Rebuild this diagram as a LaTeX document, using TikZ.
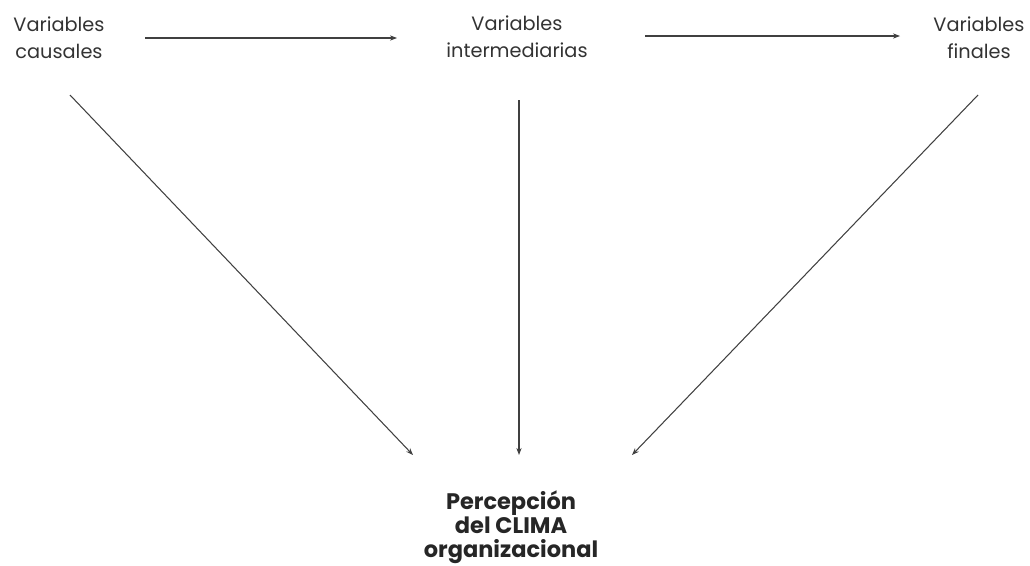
\documentclass[tikz,border=0pt]{standalone}
\usepackage{fontspec}
\setmainfont{Poppins}
\usetikzlibrary{arrows.meta, positioning}

\begin{document}
\begin{tikzpicture}[x=0.02cm, y=-0.02cm,
    varbox/.style={align=center, inner sep=1pt, font=\fontsize{11}{15.5}\selectfont, text=black!80},
    result/.style={align=center, inner sep=1pt, font=\fontsize{12.8}{13.8}\selectfont\bfseries, text=black!85},
    arrow/.style={-{Stealth[length=4pt, width=3pt]}, line width=0.6pt, draw=black!75}]

    \useasboundingbox (0,0) rectangle (1030,565);

    % Variables
    \node [varbox] (causal) at (59,38) {Variables\\causales};
    \node [varbox] (inter) at (517,37) {Variables\\intermediarias};
    \node [varbox] (final) at (979,38) {Variables\\finales};

    % Resultado
    \node [result] (clima) at (511,527) {Percepción\\del CLIMA\\organizacional};

    % Arrows
    \draw [arrow] ([shift={(86,0)}]causal.center) -- ([shift={(-120,1)}]inter.center);
    \draw [arrow] ([shift={(128,-1)}]inter.center) -- ([shift={(-79,-2)}]final.center);
    \draw [arrow] ([shift={(11,57)}]causal.center) -- ([shift={(-98,-72)}]clima.center);
    \draw [arrow] ([shift={(2,63)}]inter.center) -- ([shift={(8,-72)}]clima.center);
    \draw [arrow] ([shift={(-1,57)}]final.center) -- ([shift={(121,-72)}]clima.center);

\end{tikzpicture}
\end{document}
